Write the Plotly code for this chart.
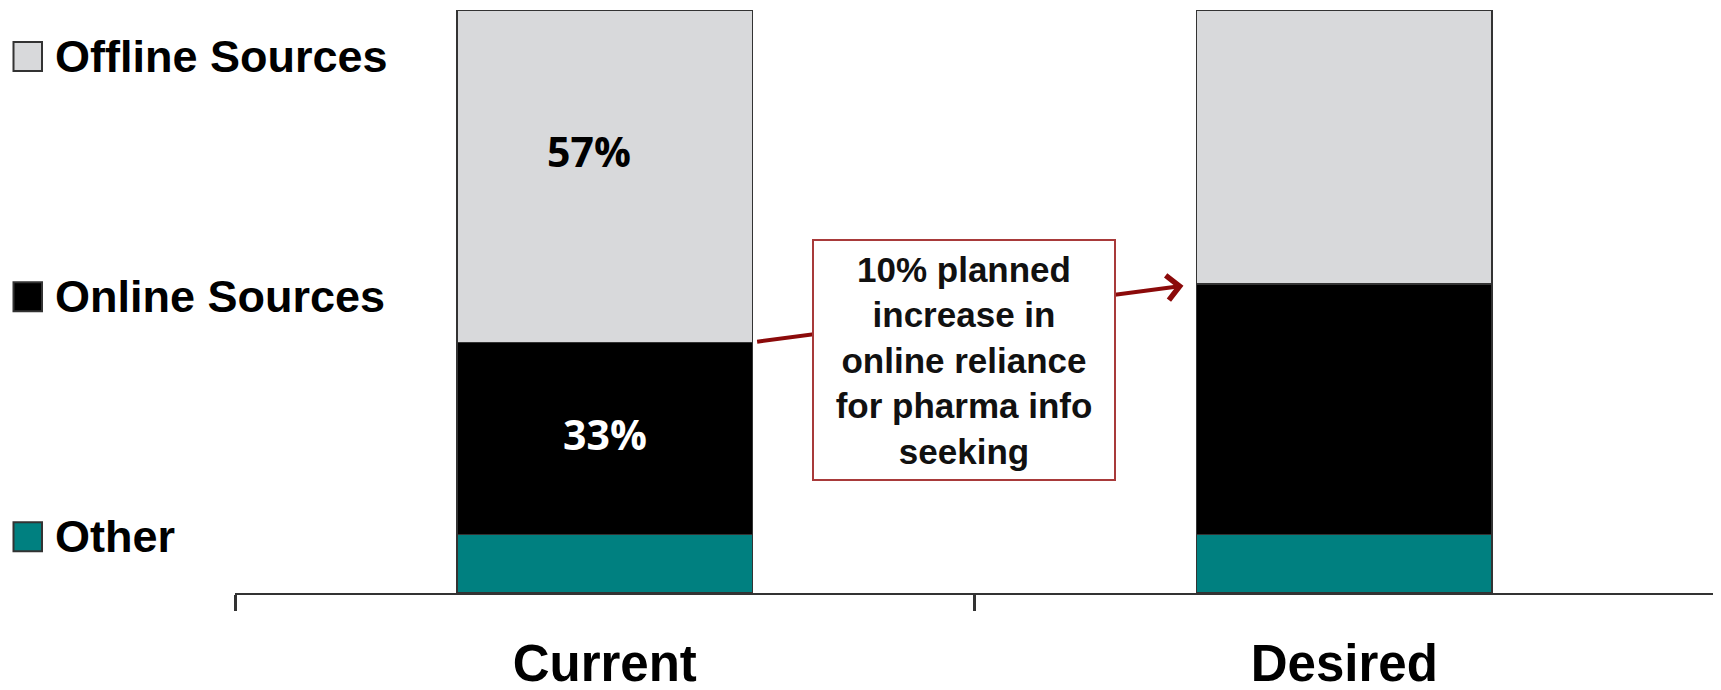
import plotly.graph_objects as go

# ---- data ----
categories = ["Current", "Desired"]
series_names = ["Other", "Online Sources", "Offline Sources"]
other_vals = [10, 10]
online_vals = [33, 43]
offline_vals = [57, 47]
label_texts = ["57%", "33%"]
callout_text = "10% planned<br>increase in<br>online reliance<br>for pharma info<br>seeking"

colors = {"Other": "#008080", "Online Sources": "#000000", "Offline Sources": "#D8D9DB"}
values = {"Other": other_vals, "Online Sources": online_vals, "Offline Sources": offline_vals}

OFF = 8  # default page body margin
W, H = 1721 - OFF, 690 - OFF
# plot area in window pixels: x 235..1714, y 10..592.7
ML = 235 - OFF
MT = 10 - OFF
MR = W - (1714 - OFF)
MB = H - (592.7 - OFF)
PW = W - ML - MR
PH = H - MT - MB


def px2x(px):
    return (px - OFF - ML) / PW


def px2y(py):
    return (H - MB - (py - OFF)) / PH


fig = go.Figure()
for name in series_names:
    fig.add_trace(go.Bar(
        x=categories, y=values[name], name=name,
        marker=dict(color=colors[name], line=dict(color="#333333", width=1.5)),
        width=0.4, showlegend=False, hoverinfo="skip",
    ))

annotations = []
shapes = []

# custom legend (top to bottom: Offline, Online, Other)
legend_order = ["Offline Sources", "Online Sources", "Other"]
legend_centers = [56.5, 296.5, 536.5]
for name, cy in zip(legend_order, legend_centers):
    shapes.append(dict(type="rect", xref="paper", yref="paper",
                       x0=px2x(13.5), x1=px2x(42), y0=px2y(cy + 14.5), y1=px2y(cy - 14.5),
                       fillcolor=colors[name], line=dict(color="#333333", width=2)))
    annotations.append(dict(text=name, xref="paper", yref="paper", x=px2x(53), y=px2y(cy),
                            xanchor="left", yanchor="middle", showarrow=False,
                            font=dict(family="Liberation Sans, Arial", size=45, color="#000000", weight="bold")))

# percentage labels on Current bar
cur_other, cur_online, cur_offline = other_vals[0], online_vals[0], offline_vals[0]
annotations.append(dict(text=label_texts[0], x=0, y=cur_other + cur_online + cur_offline * 0.565,
                        xref="x", yref="y", showarrow=False, xshift=-16, yshift=4,
                        font=dict(family="Open Sans", size=41, color="#000000", weight="bold")))
annotations.append(dict(text=label_texts[1], x=0, y=cur_other + cur_online / 2,
                        xref="x", yref="y", showarrow=False, yshift=5,
                        font=dict(family="Open Sans", size=41, color="#FFFFFF", weight="bold")))

# arrow from current online top to desired online top
annotations.append(dict(text="", x=0.8, y=other_vals[1] + online_vals[1],
                        ax=0.2, ay=other_vals[0] + online_vals[0],
                        xref="x", yref="y", axref="x", ayref="y",
                        showarrow=True, arrowhead=4, arrowsize=1.2, arrowwidth=4,
                        arrowcolor="#8B0A0A", standoff=13, startstandoff=3))

# callout box
annotations.append(dict(text=callout_text, x=0.486, y=40, xref="x", yref="y",
                        showarrow=False, align="center", width=300, height=238,
                        bgcolor="#FFFFFF", bordercolor="#A83A3A", borderwidth=2, borderpad=0,
                        font=dict(family="Liberation Sans, Arial", size=35, color="#111111", weight="bold")))

fig.update_layout(
    barmode="stack",
    width=W, height=H,
    margin=dict(l=ML, r=MR, t=MT, b=MB, autoexpand=False),
    paper_bgcolor="#FFFFFF", plot_bgcolor="#FFFFFF",
    showlegend=False,
    annotations=annotations,
    shapes=shapes,
    xaxis=dict(type="category", range=[-0.5, 1.5], showline=True, linecolor="#333333", linewidth=2,
               ticks="outside", tickson="boundaries", ticklen=16, tickwidth=2.5, tickcolor="#333333",
               showgrid=False, zeroline=False, ticklabelstandoff=25, automargin=False,
               tickfont=dict(family="Liberation Sans, Arial", size=51, color="#000000", weight="bold")),
    yaxis=dict(range=[0, 100], visible=False, showgrid=False, zeroline=False, automargin=False),
)

fig.write_html("out.html")
